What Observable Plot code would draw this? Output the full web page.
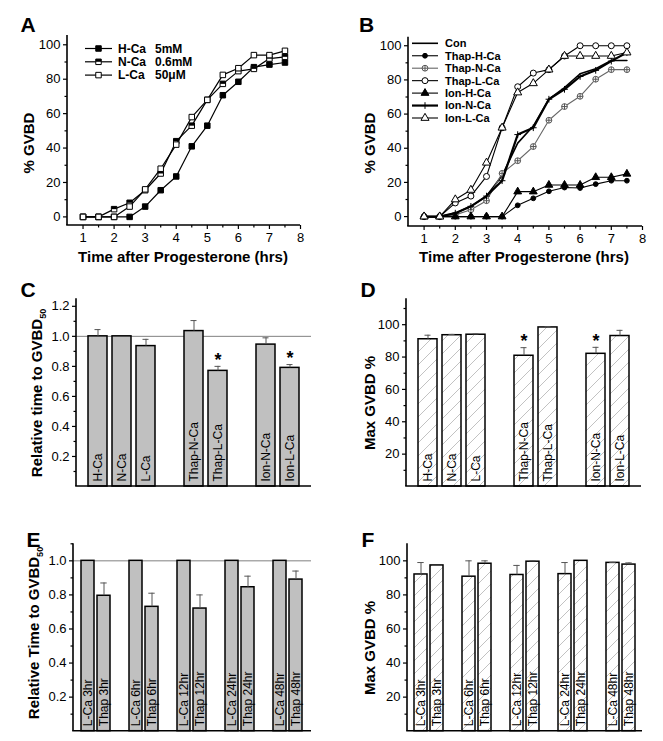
<!DOCTYPE html>
<html><head><meta charset="utf-8">
<script src="https://cdn.jsdelivr.net/npm/d3@7"></script>
<script src="https://cdn.jsdelivr.net/npm/@observablehq/plot@0.6"></script>
<style>
body{margin:0;background:#fff;}
#fig{position:relative;width:663px;height:741px;background:#fff;overflow:hidden;font-family:Arial,"Liberation Sans",sans-serif;}
#fig svg{position:absolute;}
</style></head><body><div id="fig"></div>
<script>
// ---------- DATA ----------
// Panel A
const timesA = [1,1.5,2,2.5,3,3.5,4,4.5,5,5.5,6,6.5,7,7.5];
const gvbdHCa = [0,0,0,0,6,15.5,23.5,41,53,70.7,78.5,87,88.5,89.7];
const gvbdNCa = [0,0,4.5,8.2,15.5,25.2,44,53,68,77.3,84.7,86,92,93];
const gvbdLCa = [0,0,0,6,16,28,42,58,68,82.5,86.4,94,94,96.5];
const legendA = ["H-Ca","N-Ca","L-Ca"];
const legendConcA = ["5mM","0.6mM","50\u03bcM"];
// Panel B
const timesB = [1,1.5,2,2.5,3,3.5,4,4.5,5,5.5,6,6.5,7,7.5];
const gvbdCon   = [0,0,2,6,12,24,43,53,68.7,75.5,83.6,86.6,91.4,91.4];
const gvbdThapH = [0,0,0,0,0,0,6.6,10.7,14.8,17,16.7,19,21,21];
const gvbdThapN = [0,0,1,4,9.3,25.3,32.7,41,56.4,64.4,70.4,80.4,86,86];
const gvbdThapL = [0,0,8,12,23.5,52,76,84,86,94,100,100,100,100];
const gvbdIonH  = [0,0,0,0,0,0,14.6,14.6,18.5,18.5,18.5,23,23,25];
const gvbdIonN  = [0,0,2,6,12,21,48,52,68.7,74.5,82,85.6,91,96];
const gvbdIonL  = [0,0,10,15.6,31.5,52,72.6,78,86,94,94,94,94,96];
const legendB = ["Con","Thap-H-Ca","Thap-N-Ca","Thap-L-Ca","Ion-H-Ca","Ion-N-Ca","Ion-L-Ca"];
const ticksTimeMajor = [1,2,3,4,5,6,7,8];
const ticksTimeMinor = [1.5,2.5,3.5,4.5,5.5,6.5,7.5];
const ticksPctMajor = [0,20,40,60,80,100];
const ticksPctMinor = [10,30,50,70,90];
// Panel C / D
const groupsCD = [["H-Ca","N-Ca","L-Ca"],["Thap-N-Ca","Thap-L-Ca"],["Ion-N-Ca","Ion-L-Ca"]];
const relTimeC = [1.0,1.0,0.935,1.035,0.77,0.945,0.79];
const relTimeErrC = [0.045,0,0.045,0.07,0.03,0.045,0.022];
const sigC = [false,false,false,false,true,false,true];
const maxGvbdD = [91,93.5,93.8,80.8,98.3,82,93];
const maxGvbdErrD = [2.5,0.5,0.5,5,0.4,4,3.5];
const sigD = [false,false,false,true,false,true,false];
// Panel E / F
const groupsEF = [["L-Ca 3hr","Thap 3hr"],["L-Ca 6hr","Thap 6hr"],["L-Ca 12hr","Thap 12hr"],["L-Ca 24hr","Thap 24hr"],["L-Ca 48hr","Thap 48hr"]];
const relTimeE = [1,0.795,1,0.73,1,0.72,1,0.845,1,0.89];
const relTimeErrE = [0,0.075,0,0.08,0,0.08,0,0.065,0,0.05];
const maxGvbdF = [92,97.3,90.7,98.3,91.7,99.5,92.2,100,98.8,97.8];
const maxGvbdErrF = [7,0,9.3,1.7,5.6,0.5,6.8,0,0.3,1];
const ticksRelMajor = [0.2,0.4,0.6,0.8,1.0,1.2];
const ticksRelMinor = [0.1,0.3,0.5,0.7,0.9,1.1];
const ticksMaxMajor = [20,40,60,80,100];
const ticksMaxMinor = [10,30,50,70,90,110];

// ---------- STYLE ----------
const FONT = 'Arial, "Liberation Sans", sans-serif';
const fig = document.getElementById("fig");
const halfSquare = {draw(ctx, size){const w=Math.sqrt(size);ctx.moveTo(-w/2,-w/2);ctx.lineTo(w/2,-w/2);ctx.lineTo(w/2,0);ctx.lineTo(-w/2,0);ctx.closePath();}};
const circleCross = {draw(ctx, size){const r=Math.sqrt(size/Math.PI);ctx.moveTo(r,0);ctx.arc(0,0,r,0,2*Math.PI);ctx.moveTo(-r,0);ctx.lineTo(r,0);ctx.moveTo(0,-r);ctx.lineTo(0,r);}};
const d3sym = {square:d3.symbolSquare, circle:d3.symbolCircle, triangle:d3.symbolTriangle, plus:d3.symbolPlus};

function place(svg, left, top){svg.style.left=left+"px";svg.style.top=top+"px";fig.appendChild(svg);return d3.select(svg);}
function axisLines(s, W, H, m){
  s.append("line").attr("x1",m.l).attr("x2",m.l).attr("y1",m.t).attr("y2",H-m.b).attr("stroke","black").attr("stroke-width",1.6);
  s.append("line").attr("x1",m.l-0.8).attr("x2",W-m.r).attr("y1",H-m.b).attr("y2",H-m.b).attr("stroke","black").attr("stroke-width",1.6);
}
function letter(s, txt, x, y){s.append("text").attr("x",x).attr("y",y).attr("text-anchor","start").attr("font-size",21).attr("font-weight","bold").attr("font-family",FONT).text(txt);}
function yLabel(s, txt, sub, x, y){
  const t=s.append("text").attr("transform",`translate(${x},${y}) rotate(-90)`).attr("text-anchor","middle").attr("font-size",15).attr("font-weight","bold").attr("font-family",FONT);
  t.append("tspan").text(txt);
  if(sub) t.append("tspan").attr("dy",4).attr("font-size",9).text(sub);
}
function xLabel(s, txt, x, y){s.append("text").attr("x",x).attr("y",y).attr("text-anchor","middle").attr("font-size",15).attr("font-weight","bold").attr("font-family",FONT).text(txt);}
function symPath(sym, r){const type = typeof sym==="string"?d3sym[sym]:sym;return d3.symbol().type(type).size(r*r*Math.PI)();}

function linePanel(cfg){
  const m=cfg.m;
  const marks=[];
  cfg.series.forEach(s=>{
    const rows=s.values.map((v,i)=>({t:cfg.times[i],v}));
    marks.push(Plot.line(rows,{x:"t",y:"v",stroke:s.line,strokeWidth:s.lw}));
    if(s.symbol){
      marks.push(Plot.dot(rows,{x:"t",y:"v",symbol:s.symbol,r:s.r,fill:s.fill,stroke:s.stroke,strokeWidth:1}));
      if(s.overlay) marks.push(Plot.dot(rows,{x:"t",y:"v",symbol:s.overlay,r:s.r,fill:"black",stroke:"none"}));
    }
  });
  marks.push(
    Plot.axisX({ticks:ticksTimeMajor,tickSize:4,tickPadding:3,tickFormat:d3.format("d"),label:null,strokeWidth:1.2}),
    Plot.axisX({ticks:ticksTimeMinor,tickSize:2.5,tickFormat:()=>"",label:null,strokeWidth:1.2}),
    Plot.axisY({ticks:ticksPctMajor,tickSize:4,tickPadding:3,tickFormat:d3.format("d"),label:null,strokeWidth:1.2}),
    Plot.axisY({ticks:ticksPctMinor,tickSize:2.5,tickFormat:()=>"",label:null,strokeWidth:1.2})
  );
  const svg=Plot.plot({width:cfg.W,height:cfg.H,marginLeft:m.l,marginRight:m.r,marginTop:m.t,marginBottom:m.b,
    x:{domain:cfg.xDomain},y:{domain:cfg.yDomain},
    style:{fontFamily:FONT,fontSize:"13px",color:"black",background:"transparent",overflow:"visible"},marks});
  const s=place(svg,cfg.left,cfg.top);
  axisLines(s,cfg.W,cfg.H,m);
  // legend
  const L=cfg.legend;
  cfg.series.forEach((ser,i)=>{
    const y=L.y0+i*L.dy;
    const g=s.append("g");
    g.append("line").attr("x1",L.x0).attr("x2",L.x1).attr("y1",y).attr("y2",y).attr("stroke",ser.line).attr("stroke-width",ser.lw);
    if(ser.symbol){
      g.append("path").attr("d",symPath(ser.symbol,ser.r)).attr("transform",`translate(${(L.x0+L.x1)/2},${y})`).attr("fill",ser.fill).attr("stroke",ser.stroke);
      if(ser.overlay) g.append("path").attr("d",symPath(ser.overlay,ser.r)).attr("transform",`translate(${(L.x0+L.x1)/2},${y})`).attr("fill","black");
    }
    g.append("text").attr("x",L.tx).attr("y",y).attr("dy","0.35em").attr("text-anchor","start").attr("font-size",L.fs).attr("font-weight","bold").attr("font-family",FONT).text(cfg.names[i]);
    if(cfg.conc) g.append("text").attr("x",L.tx2).attr("y",y).attr("dy","0.35em").attr("text-anchor","start").attr("font-size",L.fs).attr("font-weight","bold").attr("font-family",FONT).text(cfg.conc[i]);
  });
  letter(s,cfg.letter,cfg.letterPos[0],cfg.letterPos[1]);
  yLabel(s,"% GVBD",null,cfg.yl[0],cfg.yl[1]);
  xLabel(s,"Time after Progesterone (hrs)",cfg.xl[0],cfg.xl[1]);
}

function barPanel(cfg){
  const m=cfg.m;
  const cats=cfg.groups.flat();
  const domain=[];
  cfg.groups.forEach((g,i)=>{if(i>0) domain.push("__gap"+i); domain.push(...g);});
  const rows=cats.map((c,i)=>({cat:c,v:cfg.values[i],e:cfg.errors[i],s:cfg.sig?cfg.sig[i]:false}));
  const withErr=rows.filter(d=>d.e>0);
  const marks=[];
  if(cfg.ref!=null) marks.push(Plot.ruleY([cfg.ref],{stroke:"#808080",strokeWidth:1}));
  marks.push(
    Plot.barY(rows,{x:"cat",y:"v",fill:cfg.fill,stroke:"black",strokeWidth:1.5}),
    Plot.ruleX(withErr,{x:"cat",y1:"v",y2:d=>d.v+d.e,stroke:"#555",strokeWidth:1}),
    Plot.tickY(withErr,{x:"cat",y:d=>d.v+d.e,stroke:"#555",strokeWidth:1,inset:cfg.capInset}),
    Plot.text(rows.filter(d=>d.s),{x:"cat",y:d=>d.v+d.e,text:()=>"*",dy:-6,fontSize:18,fontWeight:"bold"}),
    Plot.text(rows,{x:"cat",text:"cat",frameAnchor:"bottom",rotate:-90,textAnchor:"start",lineAnchor:"middle",dy:-5,fontSize:12}),
    Plot.axisY({ticks:cfg.major,tickSize:4,tickPadding:3,tickFormat:cfg.fmt,label:null,strokeWidth:1.2}),
    Plot.axisY({ticks:cfg.minor,tickSize:2.5,tickFormat:()=>"",label:null,strokeWidth:1.2})
  );
  const svg=Plot.plot({width:cfg.W,height:cfg.H,marginLeft:m.l,marginRight:m.r,marginTop:m.t,marginBottom:m.b,
    x:{type:"band",domain,paddingInner:cfg.pi,paddingOuter:cfg.po,axis:null},
    y:{domain:cfg.yDomain},
    style:{fontFamily:FONT,fontSize:"13px",color:"black",background:"transparent",overflow:"visible"},marks});
  const s=place(svg,cfg.left,cfg.top);
  if(cfg.hatchId){
    const p=s.insert("defs",":first-child").append("pattern").attr("id",cfg.hatchId).attr("patternUnits","userSpaceOnUse").attr("width",13).attr("height",13);
    p.append("rect").attr("width",13).attr("height",13).attr("fill","white");
    p.append("path").attr("d","M0,13 L13,0 M-3,3 L3,-3 M10,16 L16,10").attr("stroke","#a8a8a8").attr("stroke-width",0.7);
  }
  axisLines(s,cfg.W,cfg.H,m);
  letter(s,cfg.letter,cfg.letterPos[0],cfg.letterPos[1]);
  yLabel(s,cfg.ylab,cfg.sub,cfg.yl[0],cfg.yl[1]);
}

// ---------- PANELS ----------
linePanel({left:0,top:0,W:331,H:270,m:{l:67,r:31,t:35,b:45},xDomain:[0.5,8],yDomain:[-5,105.4],
  times:timesA,names:legendA,conc:legendConcA,
  series:[
    {values:gvbdHCa,line:"black",lw:1.2,symbol:"square",r:3.1,fill:"black",stroke:"black"},
    {values:gvbdNCa,line:"black",lw:1.2,symbol:"square",r:3.1,fill:"white",stroke:"black",overlay:halfSquare},
    {values:gvbdLCa,line:"black",lw:1.2,symbol:"square",r:3.1,fill:"white",stroke:"black"}
  ],
  legend:{x0:85,x1:112,tx:118,tx2:155,y0:48.5,dy:13.3,fs:12},
  letter:"A",letterPos:[20.5,32],yl:[34,143],xl:[183,262]});

linePanel({left:331,top:0,W:332,H:270,m:{l:77,r:21,t:36.7,b:44},xDomain:[0.5,8],yDomain:[-5.8,105],
  times:timesB,names:legendB,
  series:[
    {values:gvbdCon,line:"black",lw:1.6},
    {values:gvbdThapH,line:"black",lw:1.1,symbol:"circle",r:2.4,fill:"black",stroke:"black"},
    {values:gvbdThapN,line:"#666",lw:1.1,symbol:circleCross,r:2.9,fill:"white",stroke:"#555"},
    {values:gvbdThapL,line:"black",lw:1.1,symbol:"circle",r:3,fill:"white",stroke:"black"},
    {values:gvbdIonH,line:"black",lw:1.1,symbol:"triangle",r:2.9,fill:"black",stroke:"black"},
    {values:gvbdIonN,line:"black",lw:2.2,symbol:"plus",r:2.3,fill:"none",stroke:"black"},
    {values:gvbdIonL,line:"black",lw:1.1,symbol:"triangle",r:3,fill:"white",stroke:"black"}
  ],
  legend:{x0:81,x1:107,tx:114,y0:43.3,dy:12.45,fs:11},
  letter:"B",letterPos:[28,32],yl:[44,143],xl:[193,262]});

barPanel({left:0,top:270,W:331,H:240,m:{l:76,r:20,t:28.3,b:24},yDomain:[0,1.25],
  groups:groupsCD,values:relTimeC,errors:relTimeErrC,sig:sigC,ref:1,
  fill:"#c0c0c0",major:ticksRelMajor,minor:ticksRelMinor,fmt:d3.format(".1f"),pi:0.19,po:0.36,capInset:6.5,
  letter:"C",letterPos:[20.5,27],ylab:"Relative time to GVBD",sub:"50",yl:[41.5,123]});

barPanel({left:331,top:270,W:332,H:240,m:{l:75,r:22,t:28.3,b:24},yDomain:[0,116],
  groups:groupsCD,values:maxGvbdD,errors:maxGvbdErrD,sig:sigD,ref:null,hatchId:"hatchD",
  fill:"url(#hatchD)",major:ticksMaxMajor,minor:ticksMaxMinor,fmt:d3.format("d"),pi:0.19,po:0.36,capInset:6.5,
  letter:"D",letterPos:[29.5,27],ylab:"Max GVBD %",sub:null,yl:[44,133]});

barPanel({left:0,top:510,W:331,H:231,m:{l:73,r:20,t:33.3,b:10.3},yDomain:[0,1.1],
  groups:groupsEF,values:relTimeE,errors:relTimeErrE,sig:null,ref:1,
  fill:"#c0c0c0",major:ticksRelMajor.filter(t=>t<=1.0),minor:ticksRelMinor,fmt:d3.format(".1f"),pi:0.18,po:0.37,capInset:3.3,
  letter:"E",letterPos:[26.5,37],ylab:"Relative Time to GVBD",sub:"50",yl:[38.5,123]});

barPanel({left:331,top:510,W:332,H:231,m:{l:76,r:21,t:33.3,b:10.3},yDomain:[0,110],
  groups:groupsEF,values:maxGvbdF,errors:maxGvbdErrF,sig:null,ref:null,hatchId:"hatchF",
  fill:"url(#hatchF)",major:ticksMaxMajor,minor:ticksMaxMinor.filter(t=>t<110),fmt:d3.format("d"),pi:0.18,po:0.37,capInset:3.3,
  letter:"F",letterPos:[30.5,37],ylab:"Max GVBD %",sub:null,yl:[44,138]});
</script></body></html>
